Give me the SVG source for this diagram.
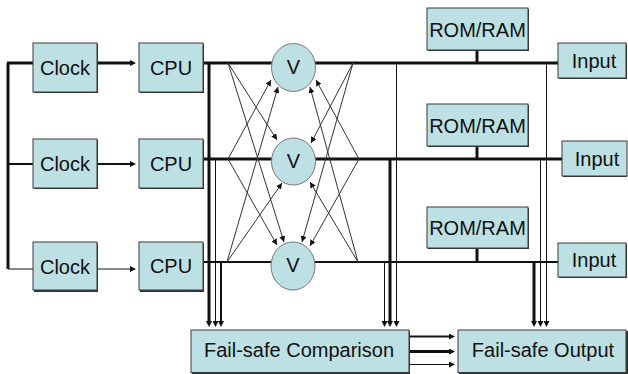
<svg xmlns="http://www.w3.org/2000/svg" width="628" height="374" viewBox="0 0 628 374">
<style>
.box{fill:#BDE0E4;stroke:#3a3a3a;stroke-width:1}
.sh{fill:#333}
.t{font-family:"Liberation Sans",Arial,sans-serif;font-size:20px;fill:#111;text-anchor:middle}
.w1{stroke:#111;stroke-width:1;fill:none}
.w2{stroke:#111;stroke-width:2;fill:none}
.w3{stroke:#111;stroke-width:3;fill:none}
.d{stroke:#333;stroke-width:1;fill:none;marker-end:url(#a)}
</style>
<defs>
<marker id="a" viewBox="0 0 6 6" refX="6" refY="3" markerWidth="6" markerHeight="6" markerUnits="userSpaceOnUse" orient="auto"><path d="M0,0 L6,3 L0,6 z" fill="#111"/></marker>
<marker id="k" viewBox="0 0 6 6" refX="3" refY="3" markerWidth="6" markerHeight="6" markerUnits="userSpaceOnUse" orient="auto"><path d="M0,0 L6,3 L0,6 z" fill="#111"/></marker>
</defs>
<g id="connectors">
<!-- clock bracket -->
<path class="w3" d="M8,63 V269"/>
<path class="w3" d="M7,63 H33"/>
<path class="w2" d="M8,164 H33"/>
<path class="w1" d="M8,269 H33"/>
<!-- clock to cpu -->
<path class="w3" d="M97,63 H133" marker-end="url(#k)"/>
<path class="w2" d="M97,164 H133" marker-end="url(#k)"/>
<path class="w1" d="M97,269 H133" marker-end="url(#k)"/>
<!-- buses -->
<path class="w3" d="M203,63 H558"/>
<path class="w3" d="M203,159 H562"/>
<path class="w2" d="M203,262 H558"/>
<!-- rom/ram stubs -->
<path class="w3" d="M477,50 V63"/>
<path class="w3" d="M477,146 V159"/>
<path class="w3" d="M477,248 V262"/>
<!-- drops -->
<path class="w3" d="M209,63 V324" marker-end="url(#k)"/>
<path class="w1" d="M215.5,159 V324" marker-end="url(#k)"/>
<path class="w2" d="M221,262 V324" marker-end="url(#k)"/>
<path class="w1" d="M384.5,262 V324" marker-end="url(#k)"/>
<path class="w3" d="M390,159 V324" marker-end="url(#k)"/>
<path class="w1" d="M396.5,63 V324" marker-end="url(#k)"/>
<path class="w3" d="M534,262 V324" marker-end="url(#k)"/>
<path class="w1" d="M540.5,159 V324" marker-end="url(#k)"/>
<path class="w1" d="M546.5,63 V324" marker-end="url(#k)"/>
<!-- comparison to output -->
<path class="w2" d="M409,336.5 H452" marker-end="url(#k)"/>
<path class="w3" d="M409,351.5 H452" marker-end="url(#k)"/>
<path class="w1" d="M409,364.5 H452" marker-end="url(#k)"/>
<!-- voter cross links -->
<path class="d" d="M228,63 L277,140"/>
<path class="d" d="M228,63 L284,242"/>
<path class="d" d="M228,159 L271,80"/>
<path class="d" d="M228,159 L277,245"/>
<path class="d" d="M227,262 L278,87"/>
<path class="d" d="M227,262 L282,183"/>
<path class="d" d="M353,63 L311,143"/>
<path class="d" d="M353,63 L302,242"/>
<path class="d" d="M359,159 L316,80"/>
<path class="d" d="M359,159 L310,246"/>
<path class="d" d="M358,262 L310,87"/>
<path class="d" d="M358,262 L310,182"/>
</g>
<g id="clock1"><rect class="sh" x="34" y="44" width="64" height="49"/><rect class="box" x="33" y="43" width="64" height="49"/><text class="t" x="65" y="75">Clock</text></g>
<g id="clock2"><rect class="sh" x="34" y="140" width="64" height="49"/><rect class="box" x="33" y="139" width="64" height="49"/><text class="t" x="65" y="171">Clock</text></g>
<g id="clock3"><rect class="sh" x="34" y="243" width="64" height="49"/><rect class="box" x="33" y="242" width="64" height="48"/><text class="t" x="65" y="273.5">Clock</text></g>
<g id="cpu1"><rect class="sh" x="140" y="44" width="64" height="49"/><rect class="box" x="139" y="43" width="64" height="49"/><text class="t" x="171" y="74.5">CPU</text></g>
<g id="cpu2"><rect class="sh" x="140" y="140" width="64" height="49"/><rect class="box" x="139" y="139" width="64" height="49"/><text class="t" x="171" y="170.5">CPU</text></g>
<g id="cpu3"><rect class="sh" x="140" y="243" width="64" height="49"/><rect class="box" x="139" y="242" width="64" height="48"/><text class="t" x="171" y="273">CPU</text></g>
<g id="v1"><ellipse cx="293.5" cy="67.5" rx="22" ry="24" fill="#BDE0E4" stroke="#777" stroke-width="1"/><text class="t" x="293.5" y="73.5">V</text></g>
<g id="v2"><ellipse cx="293.5" cy="161.5" rx="22" ry="23.5" fill="#BDE0E4" stroke="#777" stroke-width="1"/><text class="t" x="293.5" y="168">V</text></g>
<g id="v3"><ellipse cx="293" cy="266" rx="22" ry="24" fill="#BDE0E4" stroke="#777" stroke-width="1"/><text class="t" x="293" y="272">V</text></g>
<g id="mem1"><rect class="sh" x="428" y="9" width="101" height="42"/><rect class="box" x="427" y="8" width="101" height="42"/><text class="t" x="477.5" y="36.5">ROM/RAM</text></g>
<g id="mem2"><rect class="sh" x="428" y="105" width="101" height="42"/><rect class="box" x="427" y="104" width="101" height="42"/><text class="t" x="477.5" y="133">ROM/RAM</text></g>
<g id="mem3"><rect class="sh" x="428" y="208" width="101" height="41"/><rect class="box" x="427" y="207" width="101" height="41"/><text class="t" x="477.5" y="235">ROM/RAM</text></g>
<g id="input1"><rect class="sh" x="559" y="44" width="68" height="35"/><rect class="box" x="558" y="43" width="68" height="35"/><text class="t" x="594" y="67.5">Input</text></g>
<g id="input2"><rect class="sh" x="563" y="142" width="64" height="35"/><rect class="box" x="562" y="141" width="65" height="35"/><text class="t" x="597" y="165.5">Input</text></g>
<g id="input3"><rect class="sh" x="559" y="244" width="68" height="34"/><rect class="box" x="558" y="243" width="68" height="34"/><text class="t" x="594" y="267">Input</text></g>
<g id="compare"><rect class="sh" x="192" y="331" width="218" height="43"/><rect class="box" x="191" y="330" width="218" height="42.5"/><text class="t" x="299" y="356.5">Fail-safe Comparison</text></g>
<g id="output"><rect class="sh" x="459" y="331" width="169" height="43"/><rect class="box" x="458" y="330" width="168" height="42.5"/><text class="t" x="543" y="356.5">Fail-safe Output</text></g>
</svg>
